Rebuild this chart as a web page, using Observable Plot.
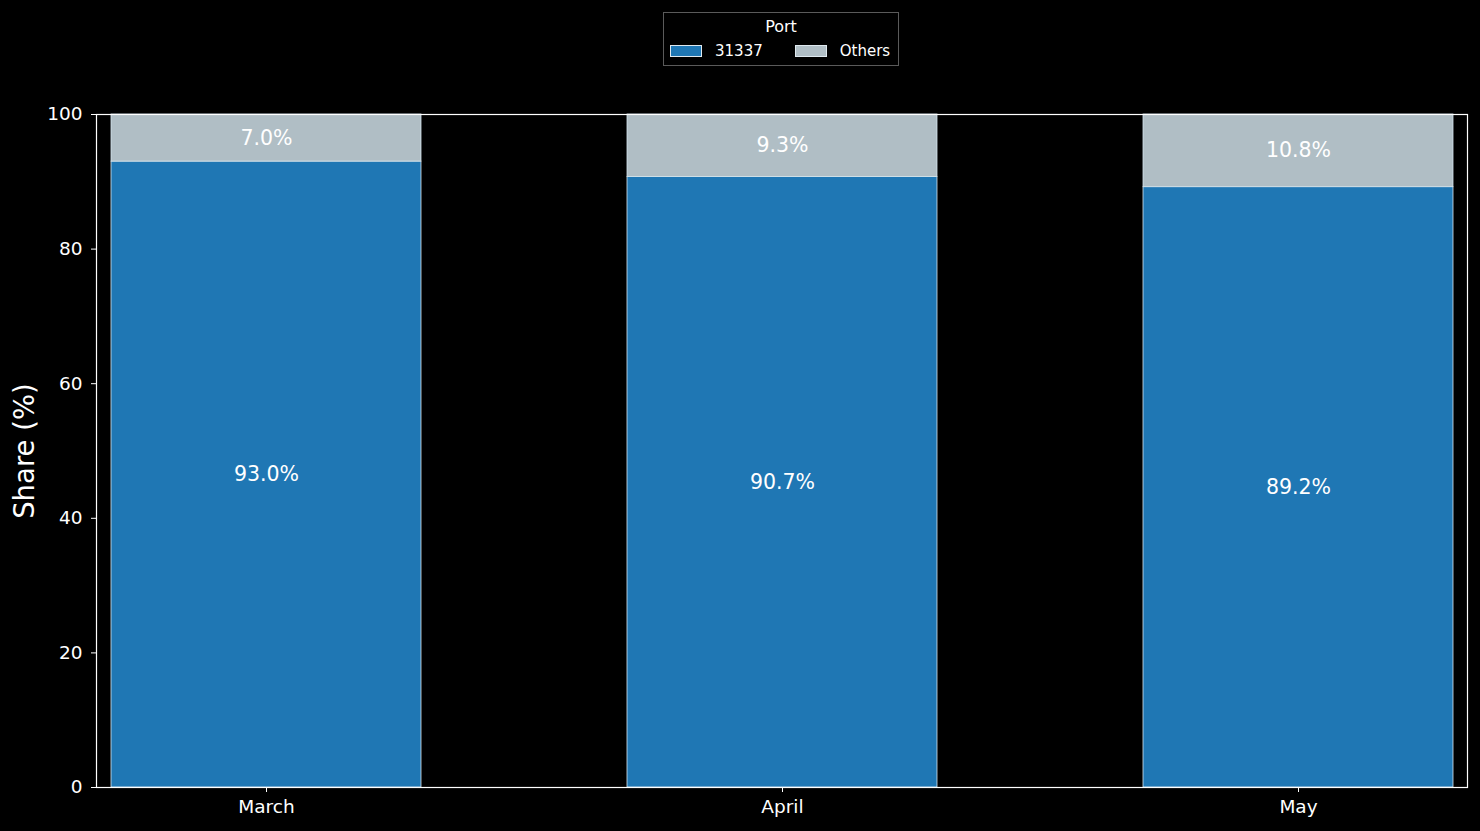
<!DOCTYPE html>
<html>
<head>
<meta charset="utf-8">
<script src="https://cdn.jsdelivr.net/npm/d3@7"></script>
<script src="https://cdn.jsdelivr.net/npm/@observablehq/plot@0.6"></script>
<style>
  html, body { margin: 0; padding: 0; background: #000; }
  body { width: 1480px; height: 831px; position: relative; overflow: hidden; font-family: "DejaVu Sans", sans-serif; }
  #legend { position: absolute; left: 663px; top: 12px; width: 234px; height: 52px; border: 1px solid #5a5a5a; background: #000; color: #fff; box-sizing: content-box; }
  #legend .title { text-align: center; font-size: 16px; margin-top: 5px; line-height: 18px; }
  #legend .items { display: flex; margin-top: 7px; padding-left: 6px; font-size: 15px; line-height: 16px; white-space: nowrap; }
  #legend .item { display: flex; align-items: center; margin-right: 32px; }
  #legend .sw { width: 30px; height: 10px; border: 1px solid #dfe9ef; margin-right: 13px; }
  #chart { position: absolute; left: 0; top: 0; }
</style>
</head>
<body>
<div id="chart"></div>
<div id="legend"></div>
<script>
const months = ["March", "April", "May"];
const series = ["31337", "Others"];
const share31337 = [93.0, 90.7, 89.2];
const shareOthers = [7.0, 9.3, 10.8];
const colors = ["#1f77b4", "#b0bec5"];
const yTicks = [0, 20, 40, 60, 80, 100];

const rows = [];
months.forEach((m, i) => {
  rows.push({month: m, port: series[0], value: share31337[i]});
  rows.push({month: m, port: series[1], value: shareOthers[i]});
});

const plot = Plot.plot({
  width: 1480,
  height: 831,
  marginTop: 114,
  marginBottom: 44,
  marginLeft: 96,
  marginRight: 13,
  style: {background: "#000", color: "#fff", fontFamily: "DejaVu Sans, sans-serif", fontSize: "18px"},
  x: {domain: months, paddingInner: 0.4, paddingOuter: 0.027, label: null},
  y: {domain: [0, 100], ticks: yTicks, label: null},
  color: {domain: series, range: colors},
  marks: [
    Plot.barY(rows, Plot.stackY({x: "month", y: "value", z: "port", fill: "port", stroke: "#d6e6ef", strokeWidth: 0.8})),
    Plot.text(rows, Plot.stackY({x: "month", y: "value", z: "port", text: d => d.value.toFixed(1) + "%", fill: "#fff", fontSize: 20.5})),
    Plot.frame({stroke: "#fff", strokeWidth: 1.2}),
    Plot.axisY({ticks: yTicks, tickSize: 5, tickPadding: 9, fontSize: 18.5, label: null}),
    Plot.axisX({tickSize: 5, tickPadding: 7, fontSize: 18.5, label: null}),
    Plot.text(["Share (%)"], {frameAnchor: "left", dx: -71, rotate: -90, textAnchor: "middle", fontSize: 27.5, fill: "#fff"})
  ]
});
document.getElementById("chart").appendChild(plot);

const lg = document.getElementById("legend");
lg.innerHTML = `<div class="title">Port</div><div class="items">` +
  series.map((s, i) => `<div class="item"><div class="sw" style="background:${colors[i]}"></div>${s}</div>`).join("") +
  `</div>`;
</script>
</body>
</html>
